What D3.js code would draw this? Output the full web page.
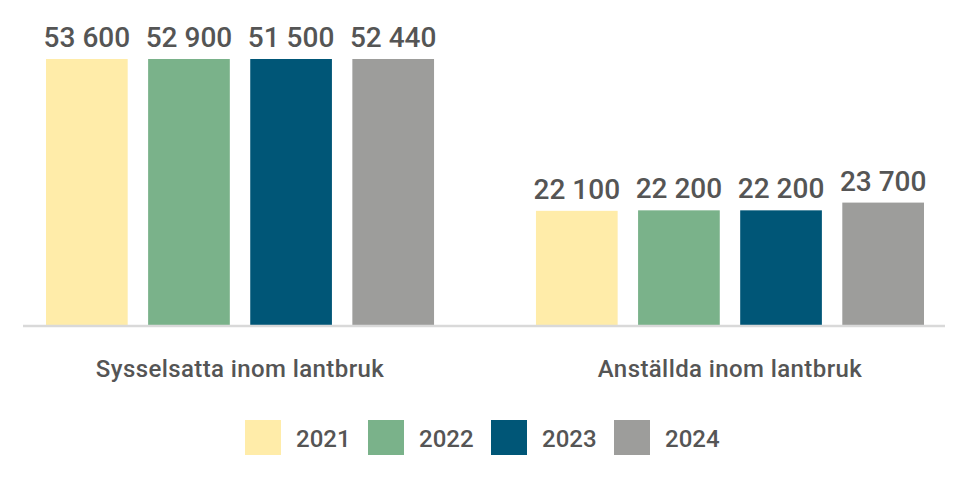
<!DOCTYPE html>
<html>
<head>
<meta charset="utf-8">
<script src="https://cdn.jsdelivr.net/npm/d3@7"></script>
<style>
  html, body { margin: 0; padding: 0; background: #fff; }
  text { font-family: Roboto, "Noto Sans", sans-serif; fill: #555555; }
</style>
</head>
<body>
<div class="chart"></div>
<script>
const groups = ['Sysselsatta inom lantbruk', 'Anställda inom lantbruk'];
const years = ['2021', '2022', '2023', '2024'];
const sysselsatta = [53600, 52900, 51500, 52440];
const anstallda = [22100, 22200, 22200, 23700];
const yearColors = ['#ffeca9', '#7ab28a', '#005677', '#9d9d9b'];

const data = groups.map((g, gi) => ({
    group: g,
    values: years.map((y, i) => ({ year: y, value: [sysselsatta, anstallda][gi][i] }))
}));

const svg = d3.select('.chart')
  .append('svg')
    .attr('width', 965)
    .attr('height', 490);

const baseline = 325;

const x0 = d3.scaleBand()
    .domain(groups)
    .range([46, 924])
    .paddingInner(0.208)
    .paddingOuter(0);

const x1 = d3.scaleBand()
    .domain(years)
    .range([0, x0.bandwidth()])
    .paddingInner(0.2)
    .paddingOuter(0);

// the top group reaches past the plot area, bars are cut at the top
const y = d3.scaleLinear()
    .domain([0, 51500])
    .range([baseline, 59])
    .clamp(true);

const color = d3.scaleOrdinal()
    .domain(years)
    .range(yearColors);

const fmt = v => d3.format(',')(v).replace(/,/g, ' ');

const g = svg.selectAll('.group')
    .data(data)
    .enter()
    .append('g')
        .classed('group', true)
        .attr('transform', d => `translate(${x0(d.group)}, 0)`);

g.selectAll('rect')
    .data(d => d.values)
    .enter()
    .append('rect')
        .attr('x', d => x1(d.year))
        .attr('y', d => y(d.value))
        .attr('width', x1.bandwidth())
        .attr('height', d => baseline - y(d.value))
        .attr('fill', d => color(d.year));

g.selectAll('.value')
    .data(d => d.values)
    .enter()
    .append('text')
        .classed('value', true)
        .attr('x', d => x1(d.year) + x1.bandwidth() / 2)
        .attr('y', d => y(d.value) - 12)
        .attr('text-anchor', 'middle')
        .style('font-size', '28px')
        .style('font-weight', '500')
        .text(d => fmt(d.value));

svg.append('line')
    .attr('x1', 23)
    .attr('x2', 945)
    .attr('y1', baseline + 1)
    .attr('y2', baseline + 1)
    .attr('stroke', '#d9d9d9')
    .attr('stroke-width', 2.5);

svg.selectAll('.cat')
    .data(groups)
    .enter()
    .append('text')
        .classed('cat', true)
        .attr('x', d => x0(d) + x0.bandwidth() / 2)
        .attr('y', 377)
        .attr('text-anchor', 'middle')
        .style('font-size', '24px')
        .style('font-weight', '500')
        .style('letter-spacing', '0.4px')
        .text(d => d);

const legend = svg.append('g')
    .classed('legend', true)
    .attr('transform', 'translate(245, 420)');

const item = legend.selectAll('.item')
    .data(years)
    .enter()
    .append('g')
        .classed('item', true)
        .attr('transform', (d, i) => `translate(${i * 123}, 0)`);

item.append('rect')
    .attr('width', 36)
    .attr('height', 35)
    .attr('fill', d => color(d));

item.append('text')
    .attr('x', 51)
    .attr('y', 27)
    .style('font-size', '24px')
    .style('font-weight', '500')
    .text(d => d);
</script>
</body>
</html>
